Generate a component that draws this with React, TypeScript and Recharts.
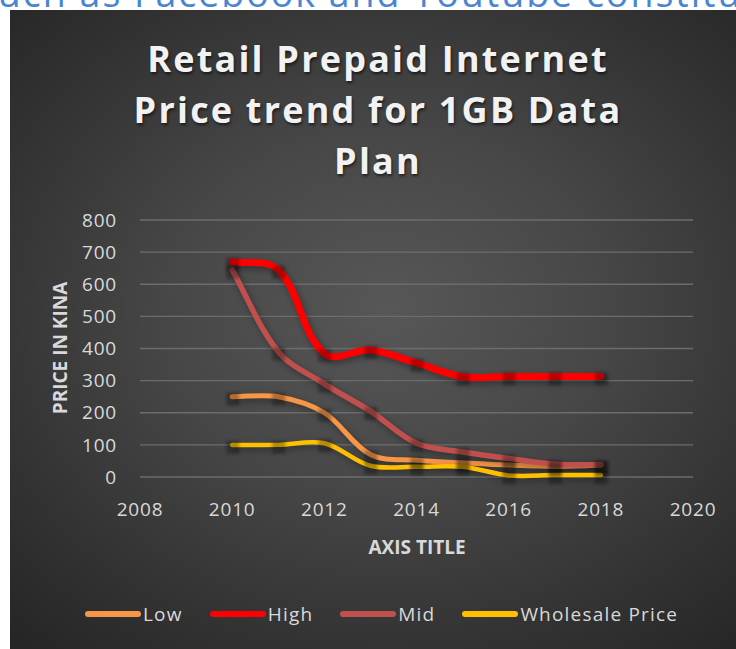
import React from 'react';
import { LineChart, Line, XAxis, YAxis, CartesianGrid } from 'recharts';

const years = [2010, 2011, 2012, 2013, 2014, 2015, 2016, 2017, 2018];
const lowValues = [250, 250, 200, 70, 52, 44, 37, 33, 37];
const highValues = [670, 645, 385, 395, 355, 312, 313, 313, 313];
const midValues = [645, 390, 290, 205, 105, 78, 58, 40, 38];
const wholesaleValues = [100, 100, 105, 35, 32, 32, 5, 6, 6];

const xTicks = [2008, 2010, 2012, 2014, 2016, 2018, 2020];
const yTicks = [0, 100, 200, 300, 400, 500, 600, 700, 800];

const series = [
  { key: 'low', name: 'Low', color: '#F79646', width: 5, values: lowValues },
  { key: 'high', name: 'High', color: '#FF0000', width: 7, values: highValues },
  { key: 'mid', name: 'Mid', color: '#C0504D', width: 5.5, values: midValues },
  { key: 'wholesale', name: 'Wholesale Price', color: '#FFC000', width: 4.5, values: wholesaleValues },
];

const data = years.map((y, i) => {
  const row: any = { year: y };
  series.forEach((s) => {
    row[s.key] = s.values[i];
  });
  return row;
});

// Excel-like smoothed line: unit tangents, control distance scaled by chord length
function excelSmooth(context: any) {
  let pts: number[][] = [];
  const unit = (a: number[], b: number[]) => {
    const dx = b[0] - a[0];
    const dy = b[1] - a[1];
    const l = Math.hypot(dx, dy) || 1;
    return [dx / l, dy / l];
  };
  return {
    areaStart() {},
    areaEnd() {},
    lineStart() {
      pts = [];
    },
    point(x: number, y: number) {
      pts.push([+x, +y]);
    },
    lineEnd() {
      const n = pts.length;
      if (!n) return;
      context.moveTo(pts[0][0], pts[0][1]);
      if (n === 1) return;
      const tan = pts.map((p, i) => {
        const a = pts[i - 1] || p;
        const b = pts[i + 1] || p;
        return unit(a, b);
      });
      for (let i = 0; i < n - 1; i++) {
        const p1 = pts[i];
        const p2 = pts[i + 1];
        const L = Math.hypot(p2[0] - p1[0], p2[1] - p1[1]) / 3;
        context.bezierCurveTo(
          p1[0] + tan[i][0] * L,
          p1[1] + tan[i][1] * L,
          p2[0] - tan[i + 1][0] * L,
          p2[1] - tan[i + 1][1] * L,
          p2[0],
          p2[1]
        );
      }
    },
  };
}

const ShadowDot = (props: any) => {
  const { cx, cy, index } = props;
  if (cx == null || cy == null) return null;
  return (
    <rect
      key={`sd-${index}`}
      x={cx - 6}
      y={cy - 4}
      width={13}
      height={13}
      fill="rgba(0,0,0,0.28)"
      style={{ filter: 'blur(1.5px)' }}
    />
  );
};

const FONT = '"Open Sans", "Noto Sans", sans-serif';
const TEXT = '#D9D9D9';

export default function App() {
  return (
    <div
      style={{
        position: 'absolute',
        left: 0,
        top: 0,
        width: 736,
        height: 649,
        overflow: 'hidden',
        background: '#ffffff',
        fontFamily: FONT,
      }}
    >
      <style>{`.main-line .recharts-line-curve { filter: drop-shadow(2px 3px 3px rgba(0,0,0,0.35)); }`}</style>
      <div
        style={{
          position: 'absolute',
          left: -22,
          top: -26,
          fontSize: 37.5,
          lineHeight: '37px',
          color: '#4A86D0',
          whiteSpace: 'nowrap',
          letterSpacing: 2,
        }}
      >
        such as Facebook and Youtube constitute
      </div>
      <div
        style={{
          position: 'absolute',
          left: 10,
          top: 10,
          width: 726,
          height: 639,
          background:
            'radial-gradient(ellipse 75% 70% at 52% 47%, #575757 0%, #474747 40%, #333333 75%, #262626 100%)',
        }}
      >
        <div
          style={{
            position: 'absolute',
            left: 10,
            top: 23,
            width: 716,
            textAlign: 'center',
            fontSize: 36,
            lineHeight: '51px',
            fontWeight: 700,
            letterSpacing: 2.2,
            color: '#F2F2F2',
            textShadow: '1px 2px 3px rgba(0,0,0,0.6)',
          }}
        >
          Retail Prepaid Internet
          <br />
          Price trend for 1GB Data
          <br />
          Plan
        </div>
        <div
          style={{
            position: 'absolute',
            left: 50 - 100,
            top: 338 - 13,
            width: 200,
            height: 26,
            lineHeight: '26px',
            textAlign: 'center',
            transform: 'rotate(-90deg)',
            fontSize: 19,
            fontWeight: 700,
            color: TEXT,
          }}
        >
          PRICE IN KINA
        </div>
        <div
          style={{
            position: 'absolute',
            left: 407 - 100,
            top: 524,
            width: 200,
            lineHeight: '26px',
            textAlign: 'center',
            fontSize: 19,
            fontWeight: 700,
            color: TEXT,
          }}
        >
          AXIS TITLE
        </div>
        <LineChart
          width={726}
          height={639}
          data={data}
          margin={{ top: 210, right: 43, bottom: 142, left: 0 }}
          style={{ position: 'absolute', left: 0, top: 0 }}
        >
          <CartesianGrid vertical={false} stroke="#6C6C6C" strokeWidth={1.3} />
          <XAxis
            dataKey="year"
            type="number"
            domain={[2008, 2020]}
            ticks={xTicks}
            axisLine={false}
            tickLine={false}
            tickSize={0}
            tickMargin={26}
            height={30}
            interval={0}
            tick={{ fill: TEXT, fontSize: 19, fontFamily: FONT, letterSpacing: 0.8 }}
          />
          <YAxis
            type="number"
            domain={[0, 800]}
            ticks={yTicks}
            axisLine={false}
            tickLine={false}
            tickSize={0}
            tickMargin={23}
            width={130}
            interval={0}
            tick={{ fill: TEXT, fontSize: 19, fontFamily: FONT, letterSpacing: 0.8 }}
          />
          {series.map((s) => (
            <Line
              key={`shadow-${s.key}`}
              dataKey={s.key}
              stroke="none"
              dot={ShadowDot}
              activeDot={false}
              legendType="none"
              isAnimationActive={false}
            />
          ))}
          {series.map((s) => (
            <Line
              key={s.key}
              className="main-line"
              dataKey={s.key}
              name={s.name}
              type={excelSmooth as any}
              stroke={s.color}
              strokeWidth={s.width}
              strokeLinecap="round"
              strokeLinejoin="round"
              dot={false}
              activeDot={false}
              isAnimationActive={false}
            />
          ))}
        </LineChart>
        <div
          style={{
            position: 'absolute',
            left: 75,
            top: 591,
            height: 26,
            display: 'flex',
            alignItems: 'center',
            fontSize: 19,
            color: TEXT,
            letterSpacing: 1.2,
          }}
        >
          {series.map((s, i) => (
            <div
              key={s.key}
              style={{ display: 'flex', alignItems: 'center', marginRight: i < series.length - 1 ? 27 : 0 }}
            >
              <div
                style={{
                  width: 56,
                  height: 6,
                  borderRadius: 3,
                  background: s.color,
                  marginRight: 2,
                }}
              />
              <span style={{ lineHeight: '26px' }}>{s.name}</span>
            </div>
          ))}
        </div>
      </div>
    </div>
  );
}
